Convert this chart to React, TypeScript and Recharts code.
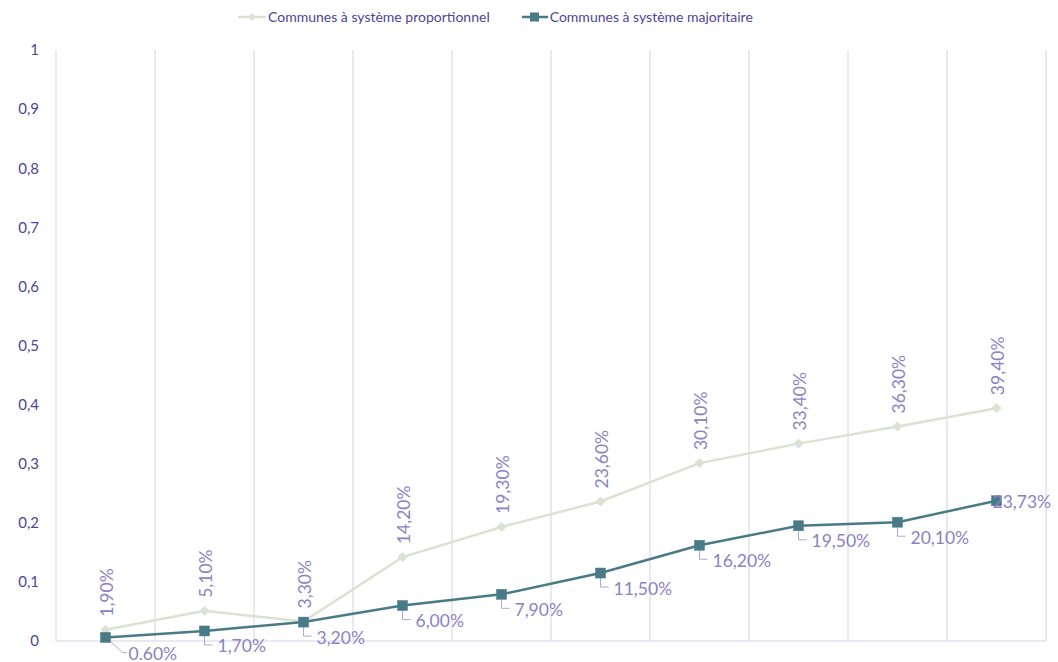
import React from "react";
import { LineChart, Line, XAxis, YAxis, CartesianGrid, Legend, LabelList } from "recharts";

const categories = ["1", "2", "3", "4", "5", "6", "7", "8", "9", "10"];
const proportionnel = [0.019, 0.051, 0.033, 0.142, 0.193, 0.236, 0.301, 0.334, 0.363, 0.394];
const majoritaire = [0.006, 0.017, 0.032, 0.06, 0.079, 0.115, 0.162, 0.195, 0.201, 0.2373];
const propLabels = ["1,90%", "5,10%", "3,30%", "14,20%", "19,30%", "23,60%", "30,10%", "33,40%", "36,30%", "39,40%"];
const majLabels = ["0.60%", "1,70%", "3,20%", "6,00%", "7,90%", "11,50%", "16,20%", "19,50%", "20,10%", "23,73%"];
const yTicks = [0, 0.1, 0.2, 0.3, 0.4, 0.5, 0.6, 0.7, 0.8, 0.9, 1];
const xTicks = [0, 1, 2, 3, 4, 5, 6, 7, 8, 9, 10];

const data = categories.map((c, i) => ({
  cat: c,
  x: i + 0.5,
  prop: proportionnel[i],
  maj: majoritaire[i],
  propLabel: propLabels[i],
  majLabel: majLabels[i],
}));

const FONT = "Lato, 'Open Sans', sans-serif";
const PROP_COLOR = "#dbe2d2";
const MAJ_COLOR = "#487a87";
const LABEL_COLOR = "#8b82c4";
const TICK_COLOR = "#4f449a";
const GRID_COLOR = "#e3e1f1";
const LABEL_SIZE = 17.5;

const Diamond = (props: any) => {
  const { cx, cy } = props;
  if (cx == null || cy == null) return null;
  const r = 4.5;
  return <path d={`M${cx},${cy - r}L${cx + r},${cy}L${cx},${cy + r}L${cx - r},${cy}Z`} fill={PROP_COLOR} stroke={PROP_COLOR} />;
};

const Square = (props: any) => {
  const { cx, cy } = props;
  if (cx == null || cy == null) return null;
  const s = 10;
  return <rect x={cx - s / 2} y={cy - s / 2} width={s} height={s} fill={MAJ_COLOR} stroke={MAJ_COLOR} strokeWidth={0.5} />;
};

const PropLabel = (props: any) => {
  const { x, y, value } = props;
  const tx = x + 1;
  const ty = y - 13;
  return (
    <text x={tx} y={ty} transform={`rotate(-90 ${tx} ${ty})`} textAnchor="start" dominantBaseline="central" fill={LABEL_COLOR} fontSize={LABEL_SIZE} fontFamily={FONT}>
      {value}
    </text>
  );
};

const MajLabel = (props: any) => {
  const { x, y, value, index } = props;
  if (index === 9) {
    return (
      <text x={x - 4} y={y + 1} textAnchor="start" dominantBaseline="central" fill={LABEL_COLOR} fontSize={LABEL_SIZE} fontFamily={FONT}>
        {value}
      </text>
    );
  }
  if (index === 0) {
    return (
      <g>
        <path d={`M${x + 5},${y + 4}L${x + 17},${y + 15}H${x + 21}`} stroke={LABEL_COLOR} strokeWidth={1} fill="none" opacity={0.7} />
        <text x={x + 23} y={y + 16} textAnchor="start" dominantBaseline="central" fill={LABEL_COLOR} fontSize={LABEL_SIZE} fontFamily={FONT}>
          {value}
        </text>
      </g>
    );
  }
  return (
    <g>
      <path d={`M${x},${y + 5}V${y + 14}H${x + 8}`} stroke={LABEL_COLOR} strokeWidth={1} fill="none" opacity={0.7} />
      <text x={x + 13} y={y + 15} textAnchor="start" dominantBaseline="central" fill={LABEL_COLOR} fontSize={LABEL_SIZE} fontFamily={FONT}>
        {value}
      </text>
    </g>
  );
};

const LegendContent = () => (
  <div style={{ display: "flex", alignItems: "center", fontFamily: FONT, fontSize: 14, color: "#4f449a", whiteSpace: "nowrap" }}>
    <svg width={28} height={12} style={{ marginRight: 2 }}>
      <line x1={0} y1={6} x2={28} y2={6} stroke={PROP_COLOR} strokeWidth={2.5} />
      <path d="M14,2L18,6L14,10L10,6Z" fill={PROP_COLOR} />
    </svg>
    <span>Communes à système proportionnel</span>
    <svg width={26} height={12} style={{ marginLeft: 32, marginRight: 2 }}>
      <line x1={0} y1={6} x2={26} y2={6} stroke={MAJ_COLOR} strokeWidth={2.5} />
      <rect x={8} y={1.5} width={9} height={9} fill={MAJ_COLOR} />
    </svg>
    <span>Communes à système majoritaire</span>
  </div>
);

const EmptyTick = () => <g />;

export default function App() {
  return (
    <div style={{ position: "absolute", left: 0, top: 0, background: "#fff" }}>
      <LineChart width={1058} height={662} data={data} margin={{ top: 30, right: 12, bottom: 0, left: 0 }}>
        <CartesianGrid horizontal={false} vertical={true} stroke={GRID_COLOR} strokeWidth={1.5} />
        <XAxis
          type="number"
          dataKey="x"
          domain={[0, 10]}
          ticks={xTicks}
          interval={0}
          tick={EmptyTick}
          tickLine={false}
          axisLine={{ stroke: GRID_COLOR, strokeWidth: 1.5 }}
          height={21}
          allowDataOverflow
        />
        <YAxis
          domain={[0, 1]}
          ticks={yTicks}
          width={56}
          axisLine={false}
          tickLine={false}
          tick={{ fill: TICK_COLOR, fontSize: 15, fontFamily: FONT }}
          tickFormatter={(v: number) => String(Math.round(v * 10) / 10).replace(".", ",")}
          dx={-9}
        />
        <Legend
          verticalAlign="top"
          content={<LegendContent />}
          wrapperStyle={{ position: "absolute", left: 238, top: 8, width: "auto", height: 20 }}
        />
        <Line
          type="linear"
          dataKey="prop"
          name="Communes à système proportionnel"
          stroke={PROP_COLOR}
          strokeWidth={2.5}
          dot={<Diamond />}
          activeDot={false}
          isAnimationActive={false}
        >
          <LabelList dataKey="propLabel" content={<PropLabel />} />
        </Line>
        <Line
          type="linear"
          dataKey="maj"
          name="Communes à système majoritaire"
          stroke={MAJ_COLOR}
          strokeWidth={2.5}
          dot={<Square />}
          activeDot={false}
          isAnimationActive={false}
        >
          <LabelList dataKey="majLabel" content={<MajLabel />} />
        </Line>
      </LineChart>
    </div>
  );
}
